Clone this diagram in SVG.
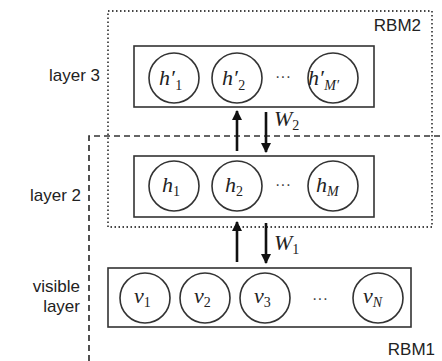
<svg xmlns="http://www.w3.org/2000/svg" width="442" height="361" viewBox="0 0 442 361">
<defs>
<style>
.lbl{font-family:"Liberation Sans",Arial,sans-serif;font-size:17px;fill:#222}
.m{font-family:"Liberation Serif","DejaVu Serif",serif;font-style:italic;font-size:22px;fill:#222}
.sub{font-size:14px;font-style:normal}
.subi{font-size:14px}
.box{fill:none;stroke:#333;stroke-width:1.6}
.unit{fill:#fff;stroke:#333;stroke-width:1.6}
.dots{font-family:"Liberation Sans",sans-serif;font-size:16px;fill:#444}
.arr{stroke:#111;stroke-width:2.6;fill:none}
</style>
<marker id="ah" viewBox="0 0 10 10" refX="9" refY="5" markerWidth="4" markerHeight="4" markerUnits="strokeWidth" orient="auto">
<path d="M0,0 L10,5 L0,10 z" fill="#111"/>
</marker>
</defs>
<rect width="442" height="361" fill="#fff"/>

<g id="rbm2">
<rect x="108" y="11" width="324" height="216" fill="none" stroke="#444" stroke-width="1.8" stroke-dasharray="1.5 2.5"/>
<text class="lbl" x="421" y="31" text-anchor="end">RBM2</text>
</g>
<g id="rbm1">
<path d="M89,361 L89,136 L440,136" fill="none" stroke="#333" stroke-width="1.7" stroke-dasharray="6 4"/>
<text class="lbl" x="435" y="355" text-anchor="end">RBM1</text>
</g>

<g id="layer3">
<text class="lbl" x="100" y="81" text-anchor="end">layer 3</text>
<rect class="box" x="134" y="46" width="240" height="61"/>
<circle class="unit" cx="174" cy="78" r="25"/>
<circle class="unit" cx="237" cy="78" r="25"/>
<circle class="unit" cx="333" cy="78" r="25"/>
<text class="m" x="159" y="85">h′<tspan class="sub" dx="0.5" dy="5">1</tspan></text>
<text class="m" x="222" y="85">h′<tspan class="sub" dx="0.5" dy="5">2</tspan></text>
<text class="dots" x="283" y="82" text-anchor="middle">···</text>
<text class="m" x="308" y="85">h′<tspan class="subi" dx="0.5" dy="5">M′</tspan></text>
</g>

<g id="layer2">
<text class="lbl" x="81" y="201" text-anchor="end">layer 2</text>
<rect class="box" x="134" y="156" width="240" height="61"/>
<circle class="unit" cx="174" cy="186" r="25"/>
<circle class="unit" cx="237" cy="186" r="25"/>
<circle class="unit" cx="333" cy="186" r="25"/>
<text class="m" x="162" y="192">h<tspan class="sub" dy="4">1</tspan></text>
<text class="m" x="225" y="192">h<tspan class="sub" dy="4">2</tspan></text>
<text class="dots" x="283" y="190" text-anchor="middle">···</text>
<text class="m" x="316" y="192">h<tspan class="subi" dy="4">M</tspan></text>
</g>

<g id="visible">
<text class="lbl" x="80" y="292" text-anchor="end">visible</text>
<text class="lbl" x="80" y="312" text-anchor="end">layer</text>
<rect class="box" x="108" y="268" width="303" height="59"/>
<circle class="unit" cx="145" cy="298" r="25"/>
<circle class="unit" cx="205" cy="298" r="25"/>
<circle class="unit" cx="265" cy="298" r="25"/>
<circle class="unit" cx="378" cy="298" r="25"/>
<text class="m" x="134" y="303">v<tspan class="sub" dy="4">1</tspan></text>
<text class="m" x="194" y="303">v<tspan class="sub" dy="4">2</tspan></text>
<text class="m" x="254" y="303">v<tspan class="sub" dy="4">3</tspan></text>
<text class="dots" x="320" y="304" text-anchor="middle">···</text>
<text class="m" x="363" y="303">v<tspan class="subi" dy="4">N</tspan></text>
</g>

<g id="connectors">
<line class="arr" x1="237" y1="151" x2="237" y2="111" marker-end="url(#ah)"/>
<line class="arr" x1="266" y1="112" x2="266" y2="152" marker-end="url(#ah)"/>
<text class="m" x="274" y="126">W<tspan class="sub" dy="4">2</tspan></text>
<line class="arr" x1="237" y1="262" x2="237" y2="222" marker-end="url(#ah)"/>
<line class="arr" x1="266" y1="223" x2="266" y2="263" marker-end="url(#ah)"/>
<text class="m" x="274" y="250">W<tspan class="sub" dy="4">1</tspan></text>
</g>
</svg>
